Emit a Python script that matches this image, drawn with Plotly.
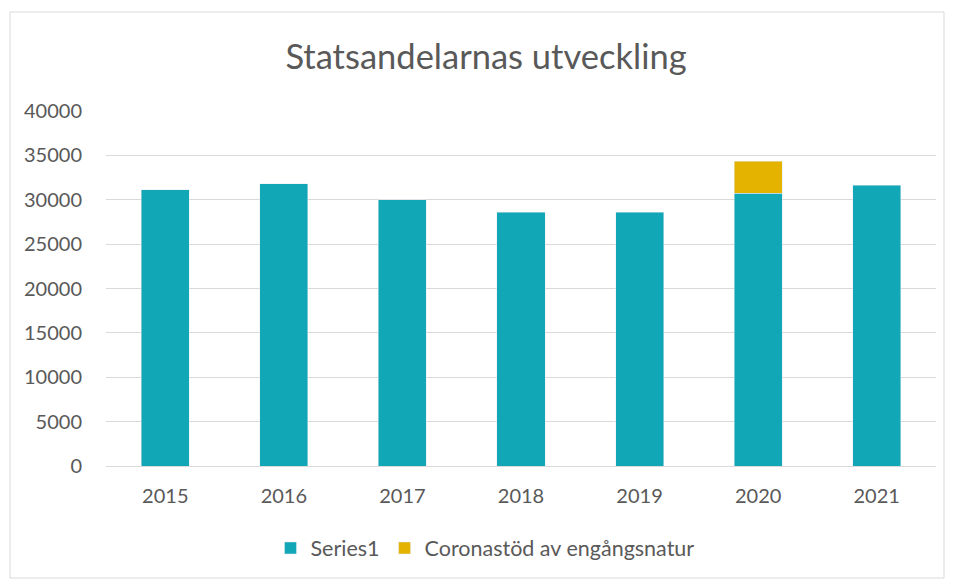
import plotly.graph_objects as go

years = ["2015", "2016", "2017", "2018", "2019", "2020", "2021"]
series1 = [31130, 31800, 29980, 28610, 28620, 30710, 31660]
corona = [None, None, None, None, None, 3610, None]
y_ticks = [0, 5000, 10000, 15000, 20000, 25000, 30000, 35000, 40000]

TEAL = "#12A7B6"
GOLD = "#E3B300"
GRAY_TXT = "#595959"
FONT = "Lato"

fig = go.Figure()
fig.add_trace(go.Bar(x=years, y=series1, name="Series1", marker_color=TEAL))
fig.add_trace(go.Bar(x=years, y=corona, name="Coronastöd av engångsnatur", marker_color=GOLD))

OFF = 8  # page body margin
W, H = 954 - OFF, 583 - OFF
L, R, T, B = 98, 18, 103, 117
pw = W - L - R
ph = H - T - B

def px_x(x):
    return (x - OFF - L) / pw

def px_y(y):
    return (H - B - (y - OFF)) / ph

fig.update_layout(
    width=W, height=H,
    barmode="stack",
    bargap=0.595,
    margin=dict(l=L, r=R, t=T, b=B, autoexpand=False),
    paper_bgcolor="white",
    plot_bgcolor="white",
    font=dict(family=FONT, color=GRAY_TXT, size=20),
    title=dict(text="Statsandelarnas utveckling", x=(486 - OFF) / W, xanchor="center",
               y=1 - (57 - OFF) / H, yanchor="middle",
               font=dict(family=FONT, size=34.5, color=GRAY_TXT)),
    legend=dict(orientation="h", x=(485 - OFF) / W, xanchor="center", xref="container",
                y=px_y(548), yanchor="middle",
                font=dict(family=FONT, size=21.5, color=GRAY_TXT),
                traceorder="normal"),
    xaxis=dict(showgrid=False, showline=True, linecolor="#D9D9D9", linewidth=1,
               ticks="", tickfont=dict(size=20, color=GRAY_TXT),
               ticklabelstandoff=12),
    yaxis=dict(range=[0, 40000], tickvals=y_ticks, tickformat="d", showgrid=True,
               gridcolor="#D9D9D9", gridwidth=1, zeroline=False,
               showline=False, ticks="", tickfont=dict(size=20, color=GRAY_TXT),
               ticklabelstandoff=23),
    shapes=[dict(type="rect", xref="paper", yref="paper",
                 x0=px_x(10), x1=px_x(944), y0=px_y(578), y1=px_y(12),
                 line=dict(color="#D9D9D9", width=1), fillcolor="rgba(0,0,0,0)",
                 layer="below")],
)

fig.write_html("out.html")
